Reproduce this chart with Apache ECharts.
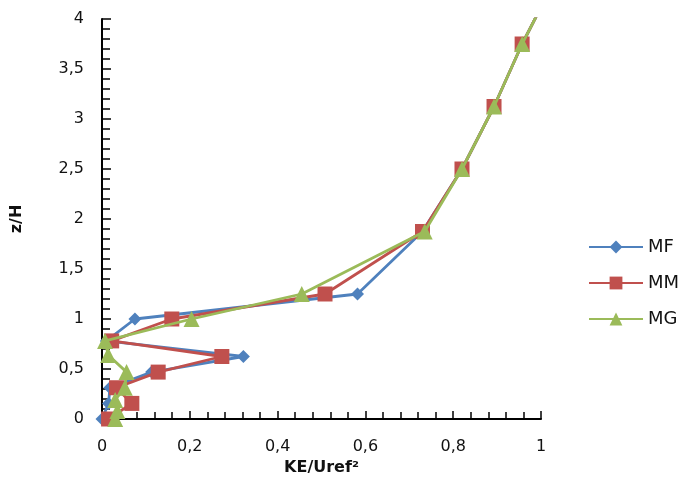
<!DOCTYPE html>
<html>
<head>
<meta charset="utf-8">
<script src="https://cdn.jsdelivr.net/npm/echarts@6/dist/echarts.min.js"></script>
<style>html,body{margin:0;padding:0;background:#fff}#c{width:691px;height:484px}</style>
</head>
<body>
<div id="c"></div>
<script>
const seriesNames = ['MF', 'MM', 'MG'];
// [KE/Uref², z/H]
const mfData = [[0,0],[0.015,0.156],[0.018,0.3125],[0.113,0.469],[0.322,0.625],[0.01,0.781],[0.075,1.0],[0.582,1.25],[0.73,1.875],[0.82,2.5],[0.893,3.125],[0.957,3.75],[1.03,4.375]];
const mmData = [[0.015,0],[0.068,0.156],[0.033,0.3125],[0.128,0.469],[0.273,0.625],[0.022,0.781],[0.159,1.0],[0.508,1.25],[0.73,1.875],[0.82,2.5],[0.893,3.125],[0.957,3.75],[1.03,4.375]];
const mgData = [[0.03,0],[0.035,0.08],[0.03,0.19],[0.052,0.3125],[0.056,0.469],[0.014,0.64],[0.007,0.781],[0.204,1.0],[0.455,1.25],[0.735,1.875],[0.82,2.5],[0.893,3.125],[0.957,3.75],[1.03,4.375]];
const xTitle = 'KE/Uref²';
const yTitle = 'z/H';

const colors = ['#4F81BD', '#C0504D', '#9BBB59'];
const symbols = ['diamond', 'rect', 'triangle'];
const sizes = [13, 15, 16];
const datas = [mfData, mmData, mgData];
const fmt = v => String(+v.toFixed(2)).replace('.', ',');
const font = 'DejaVu Sans';

const chart = echarts.init(document.getElementById('c'));
chart.setOption({
  animation: false,
  backgroundColor: '#fff',
  grid: { left: 102, right: 150, top: 19, bottom: 65 },
  legend: {
    orient: 'vertical', left: 583, top: 233, itemGap: 18,
    itemWidth: 54, itemHeight: 16,
    textStyle: { fontFamily: font, fontSize: 18, color: '#111' },
    data: seriesNames
  },
  xAxis: {
    type: 'value', min: 0, max: 1, interval: 0.2,
    name: xTitle, nameLocation: 'middle', nameGap: 40,
    nameTextStyle: { fontFamily: font, fontSize: 16, fontWeight: 'bold', color: '#111' },
    axisLine: { lineStyle: { color: '#000', width: 2 } },
    axisTick: { inside: true, length: 8, lineStyle: { color: '#000', width: 1.5 } },
    minorTick: { show: true, splitNumber: 5, length: 7, lineStyle: { color: '#000', width: 1.5 } },
    splitLine: { show: false },
    axisLabel: { fontFamily: font, fontSize: 16, color: '#111', margin: 20, formatter: fmt }
  },
  yAxis: {
    type: 'value', min: 0, max: 4, interval: 0.5,
    name: yTitle, nameLocation: 'middle', nameGap: 77, nameRotate: 90,
    nameTextStyle: { fontFamily: font, fontSize: 16, fontWeight: 'bold', color: '#111' },
    axisLine: { onZero: false, lineStyle: { color: '#000', width: 2 } },
    axisTick: { inside: true, length: 9, lineStyle: { color: '#000', width: 1.5 } },
    minorTick: { show: true, splitNumber: 5, length: 8, lineStyle: { color: '#000', width: 1.5 } },
    splitLine: { show: false },
    axisLabel: { fontFamily: font, fontSize: 16, color: '#111', margin: 18, formatter: fmt }
  },
  series: seriesNames.map((n, i) => ({
    name: n, type: 'line', data: datas[i], clip: true,
    symbol: symbols[i], symbolSize: sizes[i], showAllSymbol: true,
    lineStyle: { color: colors[i], width: 2.8 },
    itemStyle: { color: colors[i] },
    z: 2 + i
  }))
});
</script>
</body>
</html>
